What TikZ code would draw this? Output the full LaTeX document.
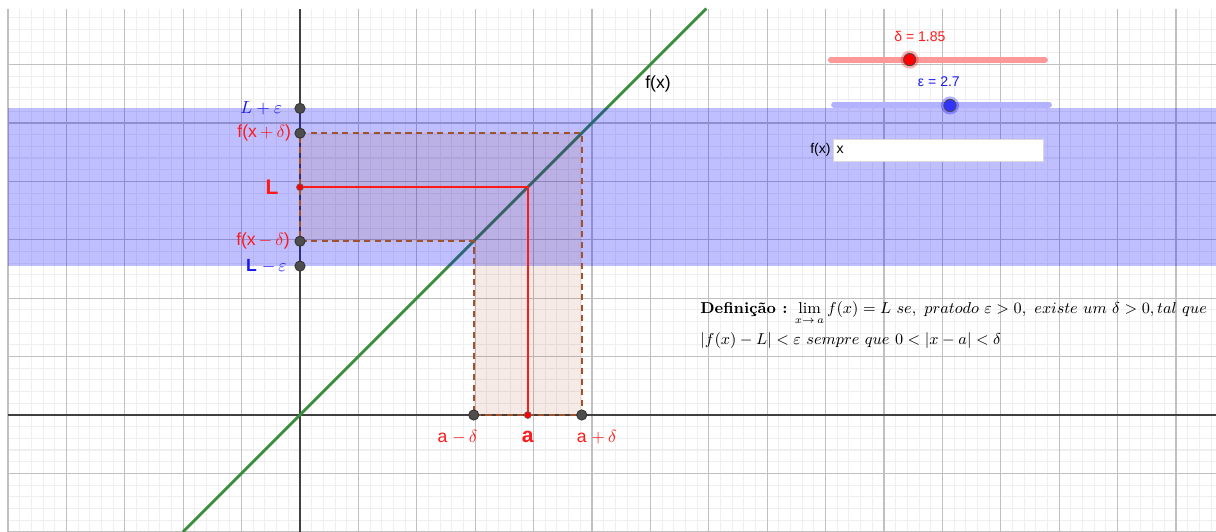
\documentclass[tikz,border=0pt]{standalone}
\usepackage{fontspec}
\setsansfont{Liberation Sans}
\definecolor{limRed}{HTML}{FF1A1A}
\definecolor{limBlue}{HTML}{1A1AF0}
\definecolor{limBrown}{HTML}{993300}
\definecolor{limDash}{HTML}{A0522D}
\definecolor{limGreen}{HTML}{3C8C40}
\definecolor{limDot}{HTML}{4D4D4D}
\definecolor{limMajor}{HTML}{C0C0C0}
\definecolor{limMinor}{HTML}{EFEFEF}
\tikzset{
  lim minor/.style={draw=limMinor, line width=0.6pt},
  lim major/.style={draw=limMajor, line width=0.6pt},
  lim axis/.style={draw=black!75, line width=0.9pt},
  lim curve/.style={draw=limGreen, line width=1.6pt},
  lim band/.style={fill=blue, fill opacity=0.25},
  lim region/.style={fill=limBrown, fill opacity=0.1},
  lim dashed/.style={draw=limDash, line width=0.9pt, dash pattern=on 3.5pt off 2.5pt},
  lim red line/.style={draw=limRed, line width=1.2pt},
  lim dot/.style={circle, draw=black!80, fill=limDot, line width=0.5pt, minimum size=5.8pt, inner sep=0pt},
  lim red dot/.style={circle, draw=black!60, fill=red, line width=0.4pt, minimum size=4pt, inner sep=0pt},
  lim label/.style={font=\sffamily, text=limRed, inner sep=1pt},
  lim blue label/.style={font=\sffamily, text=limBlue, inner sep=1pt},
  lim slider/.style={line width=3.4pt, line cap=round},
  lim knob/.style={circle, draw=black!70, line width=0.5pt, minimum size=7pt, inner sep=0pt},
  lim input/.style={draw=black!15, fill=white, minimum width=4.2cm, minimum height=0.44cm},
  lim def/.style={anchor=base west, inner sep=0pt, font=\small},
}
\begin{document}
\begin{tikzpicture}[x=0.584cm,y=0.584cm]
  \def\va{7.8}\def\vd{1.85}\def\ve{2.7}
  \useasboundingbox (-10.274,-4.007) rectangle (31.370,14.212);
  \draw[lim minor, step=0.4] (-10.001,-4.007) grid (31.37,13.92);
  \draw[lim major, step=2] (-10.001,-4.007) grid (31.37,13.92);
  \draw[lim axis] (-10,0) -- (31.37,0);
  \draw[lim axis] (0,-4.007) -- (0,13.92);
  \coordinate (cLpe) at (0,\va+\ve);
  \coordinate (cFpd) at (0,\va+\vd);
  \coordinate (cL) at (0,\va);
  \coordinate (cFmd) at (0,\va-\vd);
  \coordinate (cLme) at (0,\va-\ve);
  \coordinate (cAmd) at (\va-\vd,0);
  \coordinate (cA) at (\va,0);
  \coordinate (cApd) at (\va+\vd,0);
  \coordinate (cP) at (\va,\va);
  \coordinate (cPp) at (\va+\vd,\va+\vd);
  \coordinate (cPm) at (\va-\vd,\va-\vd);
  \coordinate (fLow) at (-4.007,-4.007);
  \coordinate (fHigh) at (13.92,13.92);
  \draw[lim curve] (fLow) -- (fHigh);
  \node[font=\sffamily] (fxLbl) at (12.26,11.34) {f(x)};
  \fill[lim band] (-10,\va-\ve) rectangle (31.37,\va+\ve);
  \fill[lim region] (cFpd) -- (cPp) -- (cApd) -- (cAmd) -- (cPm) -- (cFmd) -- cycle;
  \draw[lim dashed] (cFpd) -- (cPp) -- (cApd) -- (cAmd) -- (cPm) -- (cFmd) -- cycle;
  \draw[lim red line] (cL) -- (cP) -- (cA);
  \foreach \p in {cLpe,cFpd,cFmd,cLme,cAmd,cApd}{\node[lim dot] (\p Dot) at (\p) {};}
  \node[lim red dot] (LDot) at (cL) {};
  \node[lim red dot] (ADot) at (cA) {};
  \node[lim blue label, left=9pt] (lLpe) at (cLpe) {$L+\varepsilon$};
  \node[lim label, left=4pt] (lFpd) at (cFpd) {f(x\,$+\,\delta$)};
  \node[lim label, left=11pt, font=\sffamily\bfseries\large] (lL) at (cL) {L};
  \node[lim label, left=4.7pt] (lFmd) at (cFmd) {f(x\,$-\,\delta$)};
  \node[lim blue label, left=6.4pt] (lLme) at (cLme) {\textbf{L} $-\,\varepsilon$};
  \node[lim label] (lAmd) at (5.39,-0.75) {a $-\,\delta$};
  \node[lim label, font=\sffamily\bfseries\large] (lA) at (\va,-0.75) {a};
  \node[lim label] (lApd) at (10.16,-0.75) {a $+\,\delta$};
  \coordinate (dFrom) at (18.18,12.17);
  \coordinate (dTo) at (25.51,12.17);
  \coordinate (dAt) at (20.88,12.17);
  \draw[lim slider, red!40] (dFrom) -- (dTo);
  \fill[red, opacity=0.3] (dAt) circle (0.31);
  \node[lim knob, fill=red] (dKnob) at (dAt) {};
  \node[lim label, font=\sffamily\footnotesize] (dLbl) at (21.23,12.95) {δ = 1.85};
  \coordinate (eFrom) at (18.29,10.63);
  \coordinate (eTo) at (25.65,10.63);
  \coordinate (eAt) at (22.26,10.60);
  \draw[lim slider, blue!30] (eFrom) -- (eTo);
  \fill[blue, opacity=0.3] (eAt) circle (0.31);
  \node[lim knob, fill=blue!80] (eKnob) at (eAt) {};
  \node[lim blue label, font=\sffamily\footnotesize] (eLbl) at (21.88,11.40) {ε = 2.7};
  \node[lim input] (inBox) at (21.85,9.075) {};
  \node[font=\sffamily\footnotesize, left=0pt, inner sep=1pt] (inLbl) at (inBox.west) {f(x)};
  \node[font=\sffamily\footnotesize, right=1pt, inner sep=1pt] (inTxt) at (inBox.west) {x};
  \node[lim def] (defA) at (13.70,3.49) {\textbf{Definição :} $\lim\limits_{x\rightarrow\, a} f(x) = L\ se,\ pratodo\ \varepsilon > 0,\ existe\ um\ \delta > 0, tal\ que$};
  \node[lim def] (defB) at (13.70,2.40) {$|f(x)-L| < \varepsilon\ sempre\ que\ 0 < |x-a| < \delta$};
\end{tikzpicture}
\end{document}
